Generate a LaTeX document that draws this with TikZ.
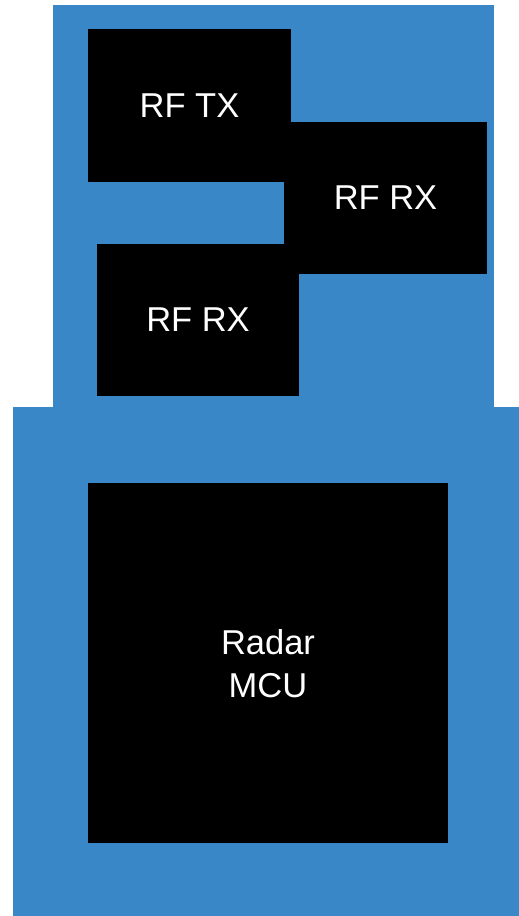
\documentclass[tikz,border=0pt]{standalone}
\usepackage{fontspec}
\setmainfont{Liberation Sans}
\definecolor{boardblue}{RGB}{58,135,200}
\begin{document}
\begin{tikzpicture}[x=1pt,y=-1pt,
  chip/.style={fill=black, draw=none, inner sep=0pt, text=white,
    font=\fontsize{34.5}{43}\selectfont, align=center, text depth=0pt}]
\useasboundingbox (0,0) rectangle (519,916);
\fill[boardblue] (53,5) rectangle (494,408);
\fill[boardblue] (13,407) rectangle (519,916);
\node[chip, minimum width=203pt, minimum height=153pt] (tx) at (189.5,105.5) {RF TX};
\node[chip, minimum width=203pt, minimum height=152pt] (rx1) at (385.5,198) {RF RX};
\node[chip, minimum width=202pt, minimum height=152pt] (rx2) at (198,320) {RF RX};
\node[chip, minimum width=360pt, minimum height=360pt] (mcu) at (268,663) {Radar\\MCU};
\end{tikzpicture}
\end{document}
